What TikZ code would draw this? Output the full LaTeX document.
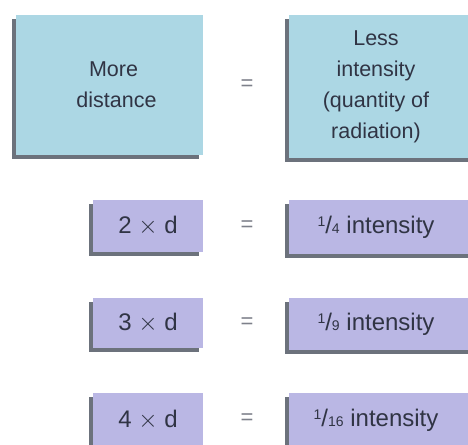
\documentclass[tikz,border=0pt]{standalone}
\usepackage{fontspec}
\setmainfont{Liberation Sans}
\usepackage{xcolor}
\definecolor{myblue}{RGB}{172,215,228}
\definecolor{mypurple}{RGB}{186,183,228}
\definecolor{myshade}{RGB}{108,114,124}
\definecolor{mytext}{RGB}{48,52,68}
\definecolor{myeq}{RGB}{125,128,138}
\usetikzlibrary{shadows}
\newcommand{\frc}[2]{\raisebox{.5ex}{\fontsize{14}{14}\selectfont #1}/{\fontsize{14}{14}\selectfont #2}}

\begin{document}
\begin{tikzpicture}[x=1pt,y=-1pt]
	\tikzstyle{box}=[draw=none,text=mytext,align=center,inner sep=0pt,
		general shadow={fill=myshade,shadow xshift=-4pt,shadow yshift=-4pt}];
	\tikzstyle{bluebox}=[box,fill=myblue,font=\fontsize{21.5}{31}\selectfont];
	\tikzstyle{rowbox}=[box,fill=mypurple,font=\fontsize{24}{28}\selectfont];
	\tikzstyle{eq}=[text=myeq,font=\fontsize{22}{26}\selectfont];
	\clip (0,0) rectangle (468,444);
	% top row
	\node[bluebox,minimum width=187pt,minimum height=140pt] (more) at (109.5,85) {\hspace*{8pt}More\\\hspace*{14pt}distance};
	\node[bluebox,minimum width=186pt,minimum height=143pt] (less) at (382,86.5) {\hspace*{-12pt}Less\\\hspace*{-12pt}intensity\\\hspace*{-12pt}(quantity of\\\hspace*{-12pt}radiation)};
	\node[eq] (eq1) at (247,85) {=};
	% distance rows
	\node[rowbox,minimum width=110pt,minimum height=52pt] (d2) at (148,226) {2 $\times$ d};
	\node[rowbox,minimum width=186pt,minimum height=54pt] (i2) at (382,227) {\hspace*{-12pt}\frc{1}{4} intensity};
	\node[eq] (eq2) at (247,226) {=};
	\node[rowbox,minimum width=110pt,minimum height=50pt] (d3) at (148,323) {3 $\times$ d};
	\node[rowbox,minimum width=186pt,minimum height=52pt] (i3) at (382,324) {\hspace*{-12pt}\frc{1}{9} intensity};
	\node[eq] (eq3) at (247,323) {=};
	\node[rowbox,minimum width=110pt,minimum height=54pt] (d4) at (148,420) {4 $\times$ d};
	\node[rowbox,minimum width=186pt,minimum height=54pt] (i4) at (382,420) {\hspace*{-12pt}\frc{1}{16} intensity};
	\node[eq] (eq4) at (247,419) {=};
\end{tikzpicture}
\end{document}
